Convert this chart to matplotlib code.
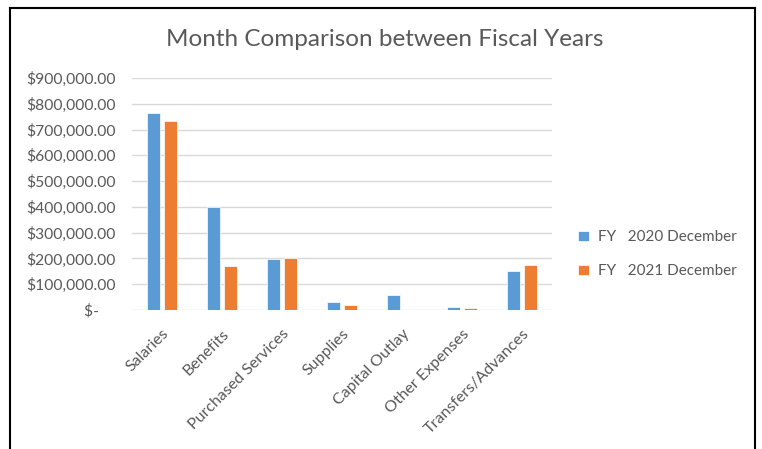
import numpy as np
import matplotlib.pyplot as plt
from matplotlib.lines import Line2D
from matplotlib.ticker import FuncFormatter

# data
categories = ["Salaries", "Benefits", "Purchased Services", "Supplies",
              "Capital Outlay", "Other Expenses", "Transfers/Advances"]
fy2020 = [763000, 401000, 197000, 32000, 57000, 13000, 152000]
fy2021 = [734000, 171000, 201000, 20000, 0, 9000, 175000]
labels = ["FY   2020 December", "FY   2021 December"]

plt.rcParams['font.family'] = ['Lato', 'DejaVu Sans']
grey = "#595959"

fig = plt.figure(figsize=(7.62, 4.49), dpi=100)
ax = fig.add_axes([0.1732, 0.3096, 0.5512, 0.5167])

x = np.arange(len(categories))
w = 0.22
ax.bar(x - 0.145, fy2020, w, color="#5B9BD5", edgecolor="white", linewidth=0.5,
       label=labels[0], zorder=3)
ax.bar(x + 0.145, fy2021, w, color="#ED7D31", edgecolor="white", linewidth=0.5,
       label=labels[1], zorder=3)

ax.set_xlim(-0.5, len(categories) - 0.5)
ax.set_ylim(0, 900000)
ax.set_yticks(np.arange(0, 900001, 100000))


def money(v, pos):
    if v == 0:
        return "$-    "
    return "${:,.2f}".format(v)


ax.yaxis.set_major_formatter(FuncFormatter(money))
ax.set_xticks(x)
ax.set_xticklabels(categories, rotation=45, ha="right", rotation_mode="anchor")
ax.tick_params(axis="both", length=0, labelsize=11.5, colors=grey)
ax.tick_params(axis="y", labelsize=11.25, pad=12)
ax.tick_params(axis="x", pad=12)
ax.grid(axis="y", color="#d9d9d9", linewidth=1, zorder=0)
for s in ax.spines.values():
    s.set_visible(False)

fig.text(0.505, 0.912, "Month Comparison between Fiscal Years",
         ha="center", va="center", fontsize=17.5, color=grey)

ax.legend(loc="center left", bbox_to_anchor=(1.03, 0.24), frameon=False,
          fontsize=11, labelcolor=grey, handlelength=0.7, handleheight=0.7,
          handletextpad=0.6, labelspacing=1.3)

# outer border (bottom edge is cut off in the original)
for xs, ys in [([0.0135, 0.0135], [0, 0.983]), ([0.0135, 0.991], [0.983, 0.983]),
               ([0.991, 0.991], [0.983, 0])]:
    fig.add_artist(Line2D(xs, ys, color="black", linewidth=1.5,
                          transform=fig.transFigure))

fig.savefig("out.png", dpi=100)
